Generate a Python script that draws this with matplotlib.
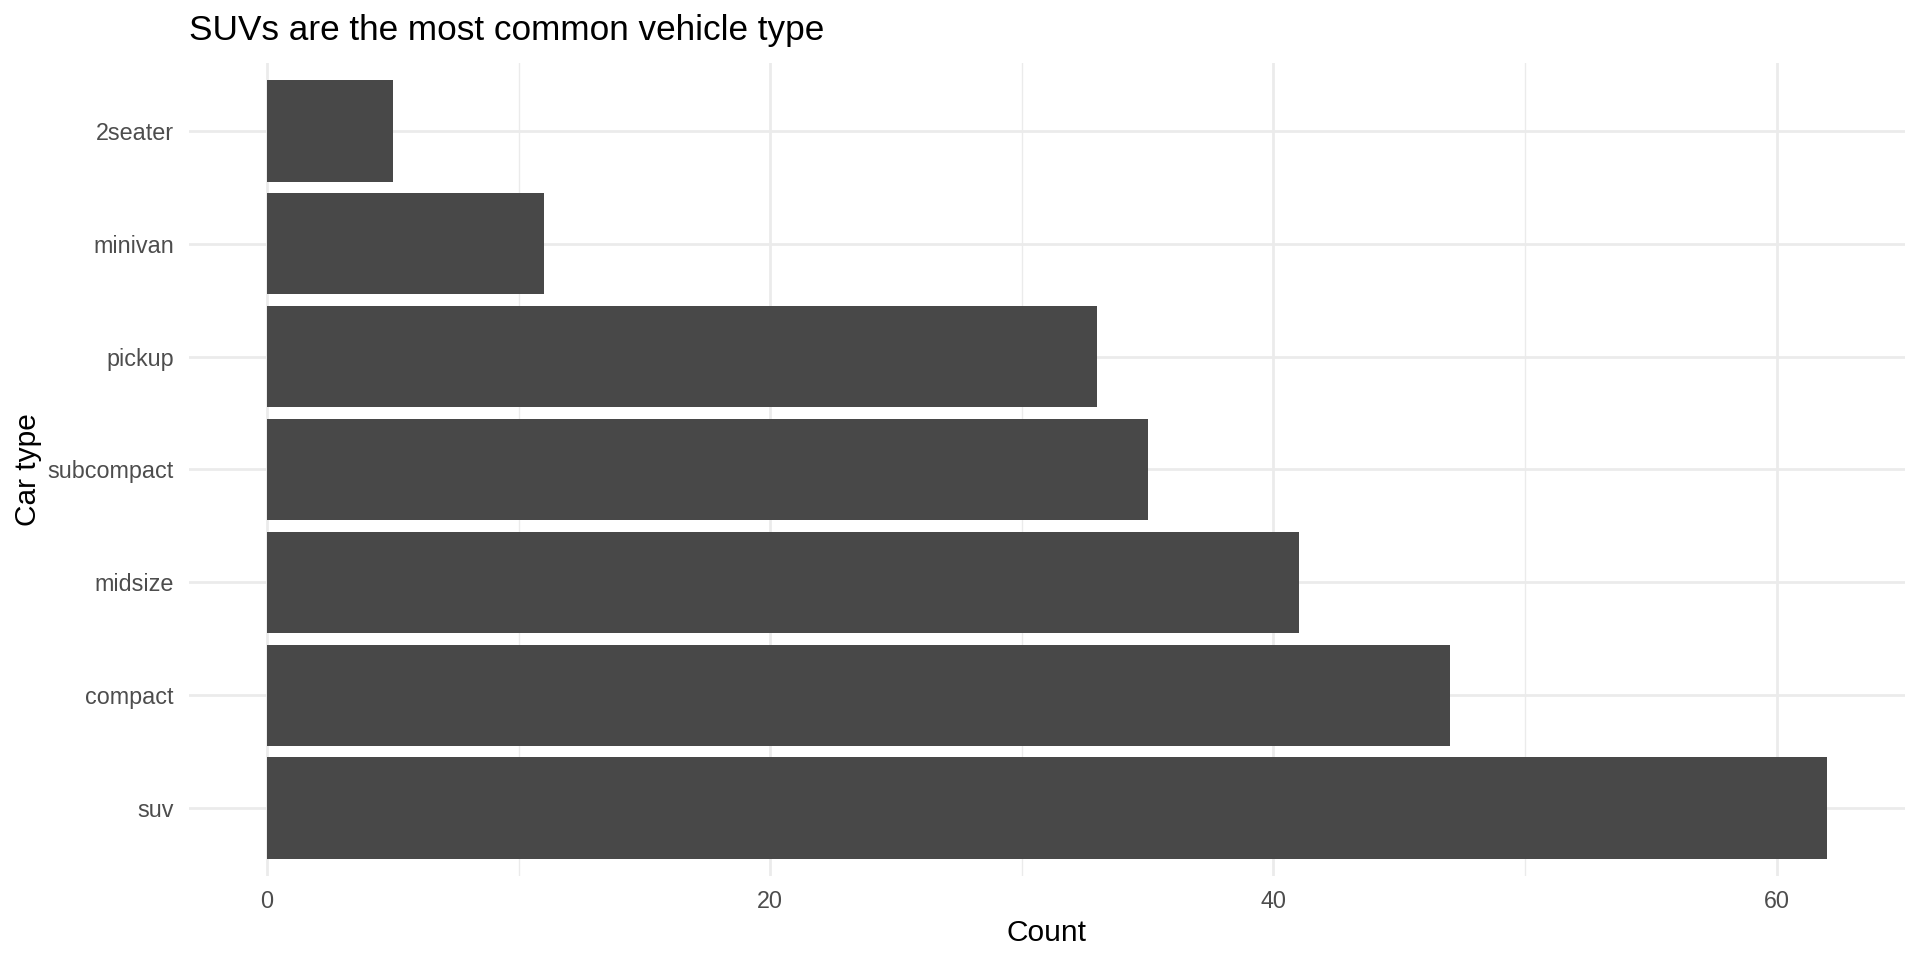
import matplotlib.pyplot as plt
from matplotlib.ticker import MultipleLocator

plt.rcParams['font.family'] = ['Liberation Sans', 'DejaVu Sans']

# bottom to top
car_types = ['suv', 'compact', 'midsize', 'subcompact', 'pickup', 'minivan', '2seater']
counts = [62, 47, 41, 35, 33, 11, 5]

fig = plt.figure(figsize=(19.2, 9.6), dpi=100)
ax = fig.add_axes([189 / 1920, 1 - 876 / 960, (1905 - 189) / 1920, (876 - 63) / 960])

ypos = list(range(1, len(car_types) + 1))
ax.barh(ypos, counts, height=0.9, color='#484848', linewidth=0, zorder=2)

xmax = max(counts)
ax.set_xlim(-0.05 * xmax, 1.05 * xmax)
ax.set_ylim(0.4, len(car_types) + 0.6)

ax.set_yticks(ypos)
ax.set_yticklabels(car_types)
ax.xaxis.set_major_locator(MultipleLocator(20))
ax.xaxis.set_minor_locator(MultipleLocator(10))

ax.grid(which='major', color='#EBEBEB', linewidth=2.0, zorder=0)
ax.grid(which='minor', axis='x', color='#EBEBEB', linewidth=1.0, zorder=0)
ax.set_axisbelow(True)

for s in ax.spines.values():
    s.set_visible(False)
ax.tick_params(which='both', length=0)
ax.tick_params(axis='x', pad=10, labelsize=16.8, labelcolor='#4D4D4D')
ax.tick_params(axis='y', pad=11, labelsize=16.8, labelcolor='#4D4D4D')

ax.set_xlabel('Count', fontsize=21.5, color='black')
ax.xaxis.set_label_coords(0.5, -(941 - 876) / 813)
ax.xaxis.label.set_va('baseline')

ax.set_ylabel('Car type', fontsize=21.5, color='black')
ax.yaxis.set_label_coords((27.5 - 189) / 1716, 0.5)
ax.yaxis.label.set_va('center')
ax.yaxis.label.set_ha('center')

fig.text(189 / 1920, 1 - 40 / 960, 'SUVs are the most common vehicle type',
         fontsize=25.3, color='black', ha='left', va='baseline')

fig.savefig('out.png', dpi=100, facecolor='white')
